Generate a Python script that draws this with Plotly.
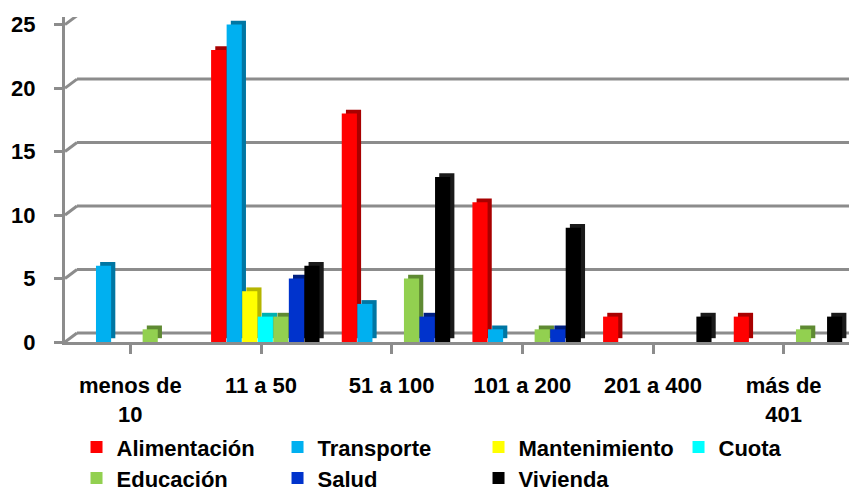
import plotly.graph_objects as go

categories = ["menos de<br>10", "11 a 50", "51 a 100", "101 a 200", "201 a 400", "más de<br>401"]
series_names = ["Alimentación", "Transporte", "Mantenimiento", "Cuota", "Educación", "Salud", "Vivienda"]
alimentacion = [0, 23, 18, 11, 2, 2]
transporte = [6, 25, 3, 1, 0, 0]
mantenimiento = [0, 4, 0, 0, 0, 0]
cuota = [0, 2, 0, 0, 0, 0]
educacion = [1, 2, 5, 1, 0, 1]
salud = [0, 5, 2, 1, 0, 0]
vivienda = [0, 6, 13, 9, 2, 2]
y_ticks = [0, 5, 10, 15, 20, 25]

values = [alimentacion, transporte, mantenimiento, cuota, educacion, salud, vivienda]
face_colors = ["#ff0000", "#00b0f0", "#ffff00", "#00ffff", "#92d050", "#0033cc", "#000000"]
side_colors = ["#a80000", "#0076a3", "#b5b500", "#00b0b0", "#5f8a33", "#001f80", "#1a1a1a"]
legend_of = ["legend", "legend", "legend", "legend3", "legend2", "legend2", "legend2"]

FONT = "Liberation Sans, Arial, sans-serif"
GREY = "#8c8c8c"
x_idx = list(range(len(categories)))
pitch = 0.119
first = -0.382
w = 0.116
depth_dx = 0.032
depth_dy = 0.3
WALL_DX = 12   # px, pseudo-3D wall depth
WALL_DY = 9

fig = go.Figure()
for i, (vals, c) in enumerate(zip(values, side_colors)):
    fig.add_trace(go.Bar(
        x=x_idx, y=vals, base=[depth_dy if v > 0 else 0 for v in vals],
        offset=first + i * pitch + depth_dx, width=w,
        marker=dict(color=c, line=dict(width=0)), showlegend=False, hoverinfo="skip"))
for i, (vals, c, n) in enumerate(zip(values, face_colors, series_names)):
    fig.add_trace(go.Bar(
        x=x_idx, y=vals, name=n, legend=legend_of[i],
        offset=first + i * pitch, width=w,
        marker=dict(color=c, line=dict(width=0))))

# back-wall gridlines (pseudo 3D), anchored to the tick values
for t in y_ticks:
    fig.add_shape(type="line", layer="below", xref="paper", xsizemode="pixel", xanchor=0,
                  x0=0, x1=WALL_DX, yref="y", ysizemode="pixel", yanchor=t,
                  y0=0, y1=WALL_DY, line=dict(color=GREY, width=3))
    fig.add_shape(type="line", layer="below", xref="paper", x0=WALL_DX / 784, x1=1,
                  yref="y", ysizemode="pixel", yanchor=t, y0=WALL_DY, y1=WALL_DY,
                  line=dict(color=GREY, width=3))

legend_common = dict(orientation="h", xanchor="left", yanchor="middle",
                     xref="container", yref="container",
                     entrywidth=156, entrywidthmode="pixels", itemwidth=30,
                     font=dict(family=FONT, size=22, color="black", weight="bold"),
                     bgcolor="rgba(0,0,0,0)", borderwidth=0, traceorder="normal")

fig.update_layout(
    template="none",
    width=855, height=493,
    barmode="overlay",
    paper_bgcolor="white", plot_bgcolor="white",
    margin=dict(l=65, r=6, t=17, b=151, autoexpand=False),
    font=dict(family=FONT, color="black", size=20),
    showlegend=True,
    legend=dict(x=0.0895, y=0.093, **legend_common),
    legend3=dict(x=0.7936, y=0.093, **legend_common),
    legend2=dict(x=0.0895, y=0.030, **legend_common),
    xaxis=dict(
        range=[-0.5, 5.5], tickmode="array", tickvals=x_idx, ticktext=categories,
        tickson="boundaries", ticks="outside", ticklen=9, tickwidth=3, tickcolor=GREY,
        showline=True, linecolor=GREY, linewidth=3, showgrid=False,
        tickfont=dict(family=FONT, size=22, color="black", weight="bold"), ticklabelstandoff=13,
        zeroline=False, fixedrange=True),
    yaxis=dict(
        range=[0, 25.6], tickmode="array", tickvals=y_ticks,
        ticks="outside", ticklen=8, tickwidth=3, tickcolor=GREY,
        showline=True, linecolor=GREY, linewidth=3,
        showgrid=False,
        tickfont=dict(family=FONT, size=22, color="black", weight="bold"), ticklabelstandoff=14,
        zeroline=False, fixedrange=True),
)

fig.write_html("out.html", config={"displayModeBar": False},
               post_script="document.body.style.margin='0';document.body.style.padding='0';")
